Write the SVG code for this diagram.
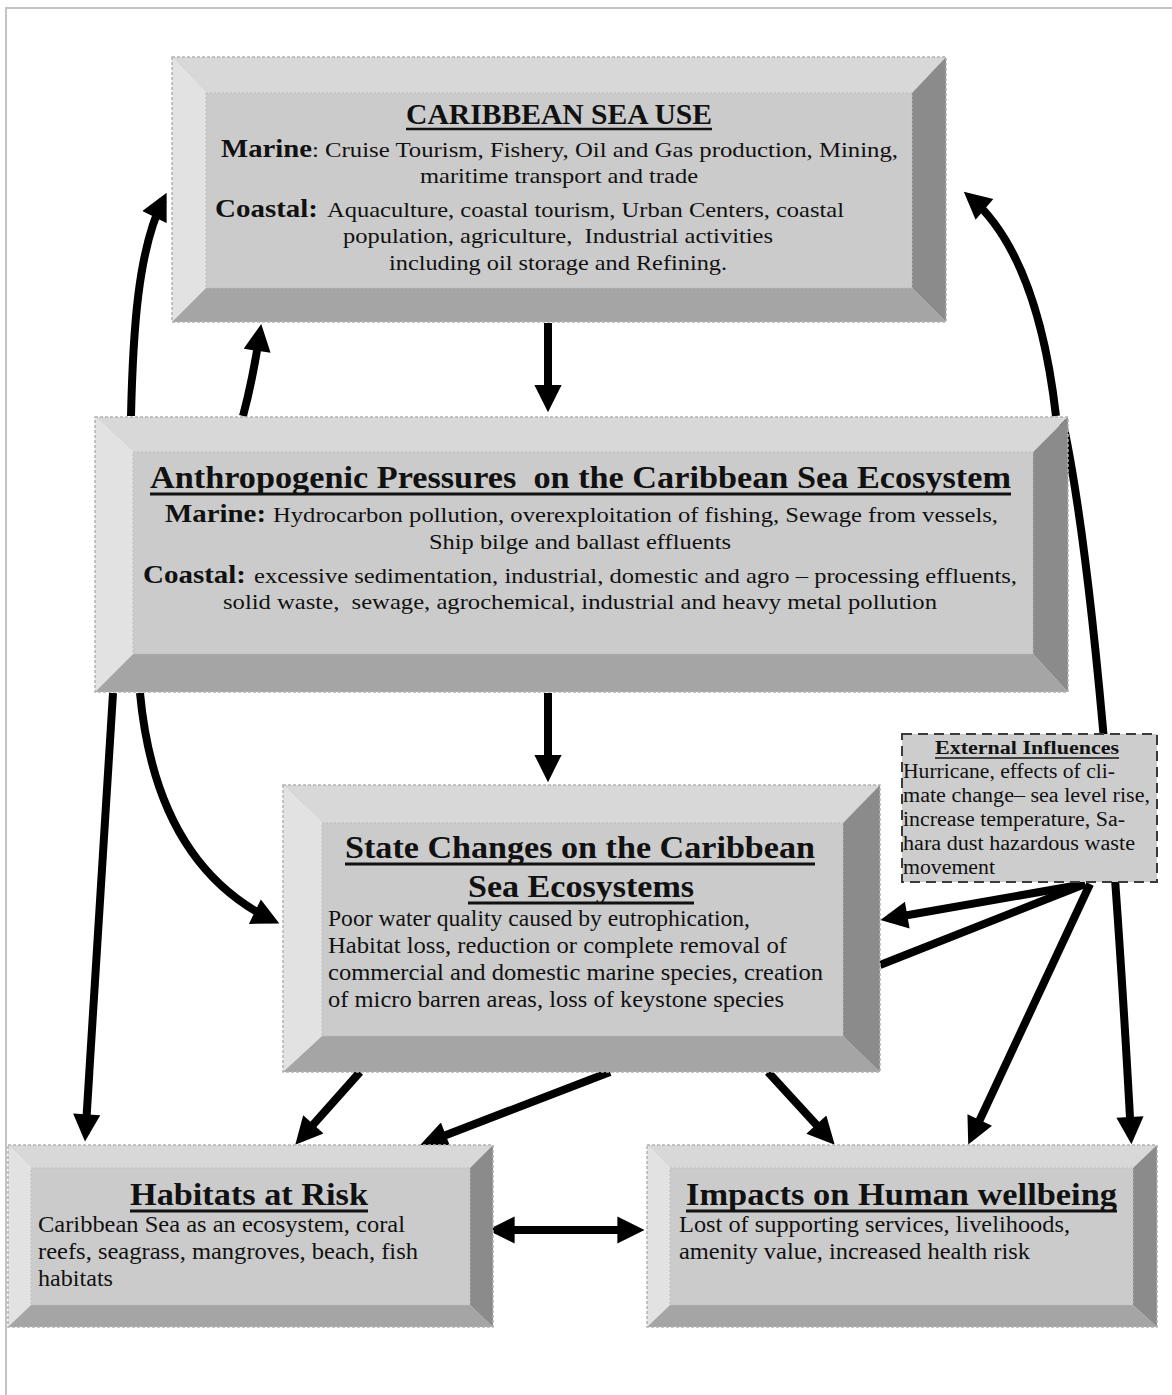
<svg xmlns="http://www.w3.org/2000/svg" width="1172" height="1395" viewBox="0 0 1172 1395" font-family="'Liberation Serif', Tinos, 'Times New Roman', Times, serif">
<style>
.frame{stroke:#c3c3c3;stroke-width:2;fill:none}
.bt{fill:#d8d8d8}.bl{fill:#e2e2e2}.bf{fill:#cbcbcb}.bb{fill:#a5a5a5}.br{fill:#8b8b8b}
.edge{fill:none;stroke:#b3b3b3;stroke-width:1.5;stroke-dasharray:3 2}
.iedge{fill:none;stroke:#bdbdbd;stroke-width:1;stroke-dasharray:2 2}
.ext{fill:#cdcdcd;stroke:#3a3a3a;stroke-width:2;stroke-dasharray:10 6}
text{font-family:'Liberation Serif', Tinos, 'Times New Roman', Times, serif;fill:#111}
.t{font-weight:bold;font-size:31px}
.lb{font-weight:bold;font-size:26px}
.b{font-size:22px}
.bs{font-size:23px}
.eb{font-size:20px}
.et{font-weight:bold;font-size:18px}
.ul{stroke:#111;stroke-width:2.5}
.c{fill:none;stroke:#000;stroke-width:8}
.ca{fill:none;stroke:#000;stroke-width:8;marker-end:url(#ah)}
</style>
<defs>
<marker id="ah" viewBox="0 0 10 10" refX="7" refY="5" markerWidth="3.6" markerHeight="3.4" orient="auto-start-reverse" markerUnits="strokeWidth"><path d="M0,0 L10,5 L0,10 z" fill="#000"/></marker>
</defs>
<rect width="1172" height="1395" fill="#fff"/>
<path class="frame" d="M6,1395 L6,8 L1172,8"/>

<g id="connectors">
<path class="ca" d="M548,323 L548,404"/>
<path class="ca" d="M548,693 L548,774"/>
<path class="ca" d="M131,416 C133,330 138,250 163,200"/>
<path class="ca" d="M243,416 C250,390 255,365 260,332"/>
<path class="ca" d="M1056,416 C1045,320 1020,240 970,197"/>
<path class="ca" d="M1062,418 Q1102,600 1131,1136"/>
<path class="ca" d="M1085,884 L888.5,918.5"/>
<path class="c" d="M1085,884 L880,965"/>
<path class="ca" d="M1090,884 L971.7,1137.2"/>
<path class="ca" d="M113,693 L85.5,1133.4"/>
<path class="ca" d="M140,693 C150,800 190,880 272,920"/>
<path class="ca" d="M360,1072 L300.7,1138.6"/>
<path class="ca" d="M610,1072 L428,1141.9"/>
<path class="ca" d="M768,1072 L829.2,1138.7"/>
<path class="ca" d="M495.6,1230 L636.4,1230" marker-start="url(#ah)"/>
</g>

<g id="caribbean-sea-use">
<polygon class="bt" points="172,57 946,57 912,93 206,93"/>
<polygon class="bl" points="172,57 206,93 206,288 172,322"/>
<polygon class="bb" points="172,322 206,288 912,288 946,322"/>
<polygon class="br" points="946,57 946,322 912,288 912,93"/>
<rect class="bf" x="206" y="93" width="706" height="195"/>
<rect class="iedge" x="206" y="93" width="706" height="195"/>
<rect class="edge" x="172" y="57" width="774" height="265"/>
<text class="t" x="406" y="124" textLength="306" lengthAdjust="spacingAndGlyphs" style="font-size:29px">CARIBBEAN SEA USE</text>
<line class="ul" x1="406" y1="129" x2="712" y2="129"/>
<text class="lb" x="221" y="157" textLength="91" lengthAdjust="spacingAndGlyphs">Marine</text>
<text class="b" x="312" y="157" textLength="586" lengthAdjust="spacingAndGlyphs">: Cruise Tourism, Fishery, Oil and Gas production, Mining,</text>
<text class="b" x="420" y="183" textLength="278" lengthAdjust="spacingAndGlyphs">maritime transport and trade</text>
<text class="lb" x="215" y="217" textLength="103" lengthAdjust="spacingAndGlyphs">Coastal:</text>
<text class="b" x="327" y="217" textLength="517" lengthAdjust="spacingAndGlyphs">Aquaculture, coastal tourism, Urban Centers, coastal</text>
<text class="b" x="343" y="243" textLength="430" lengthAdjust="spacingAndGlyphs">population, agriculture, &#160;Industrial activities</text>
<text class="b" x="389" y="270" textLength="338" lengthAdjust="spacingAndGlyphs">including oil storage and Refining.</text>
</g>

<g id="anthropogenic-pressures">
<polygon class="bt" points="95,417 1068,417 1033,452 133,452"/>
<polygon class="bl" points="95,417 133,452 133,654 95,692"/>
<polygon class="bb" points="95,692 133,654 1033,654 1068,692"/>
<polygon class="br" points="1068,417 1068,692 1033,654 1033,452"/>
<rect class="bf" x="133" y="452" width="900" height="202"/>
<rect class="iedge" x="133" y="452" width="900" height="202"/>
<rect class="edge" x="95" y="417" width="973" height="275"/>
<text class="t" x="150" y="488" textLength="861" lengthAdjust="spacingAndGlyphs">Anthropogenic Pressures &#160;on the Caribbean Sea Ecosystem</text>
<line class="ul" x1="150" y1="494" x2="1011" y2="494" style="stroke-width:3"/>
<text class="lb" x="165" y="522" textLength="101" lengthAdjust="spacingAndGlyphs">Marine:</text>
<text class="b" x="273" y="522" textLength="725" lengthAdjust="spacingAndGlyphs">Hydrocarbon pollution, overexploitation of fishing, Sewage from vessels,</text>
<text class="b" x="429" y="549" textLength="302" lengthAdjust="spacingAndGlyphs">Ship bilge and ballast effluents</text>
<text class="lb" x="143" y="583" textLength="103" lengthAdjust="spacingAndGlyphs">Coastal:</text>
<text class="b" x="254" y="583" textLength="763" lengthAdjust="spacingAndGlyphs">excessive sedimentation, industrial, domestic and agro – processing effluents,</text>
<text class="b" x="223" y="609" textLength="714" lengthAdjust="spacingAndGlyphs">solid waste, &#160;sewage, agrochemical, industrial and heavy metal pollution</text>
</g>

<g id="state-changes">
<polygon class="bt" points="283,785 880,785 843,823 322,823"/>
<polygon class="bl" points="283,785 322,823 322,1036 283,1072"/>
<polygon class="bb" points="283,1072 322,1036 843,1036 880,1072"/>
<polygon class="br" points="880,785 880,1072 843,1036 843,823"/>
<rect class="bf" x="322" y="823" width="521" height="213"/>
<rect class="iedge" x="322" y="823" width="521" height="213"/>
<rect class="edge" x="283" y="785" width="597" height="287"/>
<text class="t" x="345" y="858" textLength="470" lengthAdjust="spacingAndGlyphs">State Changes on the Caribbean</text>
<line class="ul" x1="345" y1="864" x2="815" y2="864" style="stroke-width:3"/>
<text class="t" x="468" y="897" textLength="226" lengthAdjust="spacingAndGlyphs">Sea Ecosystems</text>
<line class="ul" x1="468" y1="903" x2="694" y2="903" style="stroke-width:3"/>
<text class="bs" x="328" y="926" textLength="422" lengthAdjust="spacingAndGlyphs">Poor water quality caused by eutrophication,</text>
<text class="bs" x="328" y="953" textLength="459" lengthAdjust="spacingAndGlyphs">Habitat loss, reduction or complete removal of</text>
<text class="bs" x="328" y="980" textLength="495" lengthAdjust="spacingAndGlyphs">commercial and domestic marine species, creation</text>
<text class="bs" x="328" y="1007" textLength="456" lengthAdjust="spacingAndGlyphs">of micro barren areas, loss of keystone species</text>
</g>

<g id="external-influences">
<rect class="ext" x="902" y="734" width="255" height="148"/>
<text class="et" x="935" y="754" textLength="184" lengthAdjust="spacingAndGlyphs">External Influences</text>
<line class="ul" x1="935" y1="758" x2="1119" y2="758" style="stroke-width:1.5"/>
<text class="eb" x="903" y="778" textLength="212" lengthAdjust="spacingAndGlyphs">Hurricane, effects of cli-</text>
<text class="eb" x="903" y="802" textLength="247" lengthAdjust="spacingAndGlyphs">mate change– sea level rise,</text>
<text class="eb" x="903" y="826" textLength="222" lengthAdjust="spacingAndGlyphs">increase temperature, Sa-</text>
<text class="eb" x="903" y="850" textLength="232" lengthAdjust="spacingAndGlyphs">hara dust hazardous waste</text>
<text class="eb" x="903" y="874" textLength="92" lengthAdjust="spacingAndGlyphs">movement</text>
</g>

<g id="habitats-at-risk">
<polygon class="bt" points="8,1145 493,1145 470,1168 31,1168"/>
<polygon class="bl" points="8,1145 31,1168 31,1305 8,1327"/>
<polygon class="bb" points="8,1327 31,1305 470,1305 493,1327"/>
<polygon class="br" points="493,1145 493,1327 470,1305 470,1168"/>
<rect class="bf" x="31" y="1168" width="439" height="137"/>
<rect class="iedge" x="31" y="1168" width="439" height="137"/>
<rect class="edge" x="8" y="1145" width="485" height="182"/>
<text class="t" x="130" y="1205" textLength="238" lengthAdjust="spacingAndGlyphs">Habitats at Risk</text>
<line class="ul" x1="130" y1="1211" x2="368" y2="1211" style="stroke-width:3"/>
<text class="bs" x="38" y="1232" textLength="367" lengthAdjust="spacingAndGlyphs">Caribbean Sea as an ecosystem, coral</text>
<text class="bs" x="38" y="1259" textLength="380" lengthAdjust="spacingAndGlyphs">reefs, seagrass, mangroves, beach, fish</text>
<text class="bs" x="38" y="1286" textLength="75" lengthAdjust="spacingAndGlyphs">habitats</text>
</g>

<g id="impacts-human-wellbeing">
<polygon class="bt" points="647,1145 1157,1145 1133,1168 670,1168"/>
<polygon class="bl" points="647,1145 670,1168 670,1305 647,1327"/>
<polygon class="bb" points="647,1327 670,1305 1133,1305 1157,1327"/>
<polygon class="br" points="1157,1145 1157,1327 1133,1305 1133,1168"/>
<rect class="bf" x="670" y="1168" width="463" height="137"/>
<rect class="iedge" x="670" y="1168" width="463" height="137"/>
<rect class="edge" x="647" y="1145" width="510" height="182"/>
<text class="t" x="686" y="1205" textLength="431" lengthAdjust="spacingAndGlyphs">Impacts on Human wellbeing</text>
<line class="ul" x1="686" y1="1211" x2="1117" y2="1211" style="stroke-width:3"/>
<text class="bs" x="679" y="1232" textLength="391" lengthAdjust="spacingAndGlyphs">Lost of supporting services, livelihoods,</text>
<text class="bs" x="679" y="1259" textLength="351" lengthAdjust="spacingAndGlyphs">amenity value, increased health risk</text>
</g>
</svg>
